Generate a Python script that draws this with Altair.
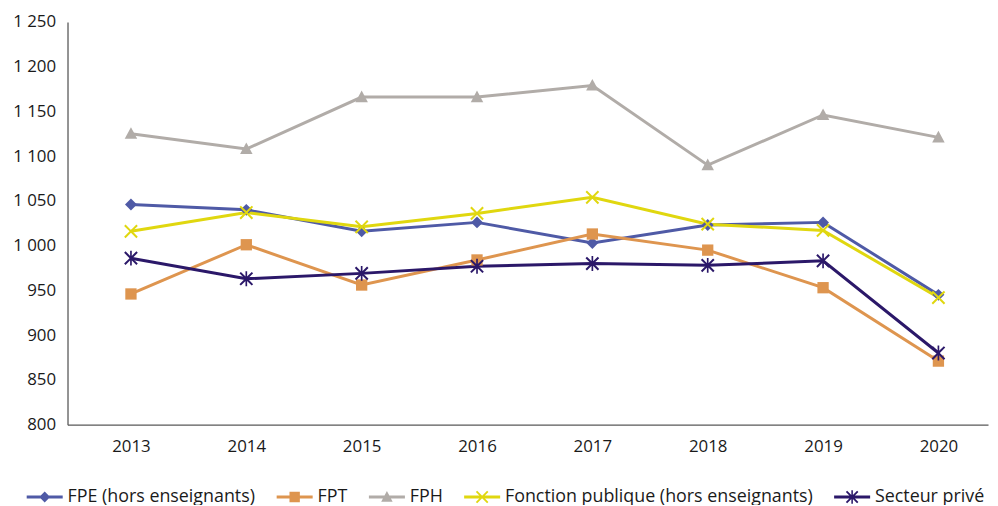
import altair as alt
import pandas as pd

# ---- data ----
years = [2013, 2014, 2015, 2016, 2017, 2018, 2019, 2020]
series_names = [
    "FPE (hors enseignants)",
    "FPT",
    "FPH",
    "Fonction publique (hors enseignants)",
    "Secteur privé",
]
fpe = [1046, 1040, 1016, 1026, 1003, 1023, 1026, 945]
fpt = [946, 1001, 956, 984, 1013, 995, 953, 871]
fph = [1125, 1108, 1166, 1166, 1179, 1090, 1146, 1121]
fonction_publique = [1016, 1037, 1021, 1036, 1054, 1024, 1017, 942]
secteur_prive = [986, 963, 969, 977, 980, 978, 983, 880]
y_ticks = [800, 850, 900, 950, 1000, 1050, 1100, 1150, 1200, 1250]

colors = ["#4F5AA6", "#DE954F", "#B1ACA8", "#E0D70F", "#2B1869"]

values = [fpe, fpt, fph, fonction_publique, secteur_prive]
rows = []
for name, vals in zip(series_names, values):
    for yr, v in zip(years, vals):
        rows.append({"annee": yr, "valeur": v, "serie": name})
df = pd.DataFrame(rows)


# ---- marker shapes (filled custom paths, unit box) ----
def fmt(v):
    return f"{v:.3f}".rstrip("0").rstrip(".")


def poly(pts):
    return "M" + "L".join(f"{fmt(x)},{fmt(y)}" for x, y in pts) + "Z"


def x_shape(s, a):
    pts = [(-s, -s + a), (-s + a, -s), (0, -a), (s - a, -s), (s, -s + a), (a, 0),
           (s, s - a), (s - a, s), (0, a), (-s + a, s), (-s, s - a), (-a, 0)]
    return poly(pts)


diamond = "M0,-1L1,0L0,1L-1,0Z"
square = "M-0.95,-0.95H0.95V0.95H-0.95Z"
triangle = "M0,-1.1L1.05,0.85L-1.05,0.85Z"
xmark = x_shape(1.15, 0.24)
asterisk = x_shape(1.15, 0.24) + "M-0.14,-1.25H0.14V1.25H-0.14Z"
chart_shapes = [diamond, square, triangle, xmark, asterisk]

legend_line = "M-3.3,-0.27H3.3V0.27H-3.3Z"
legend_shapes = [legend_line + s for s in chart_shapes]

FONT = "Open Sans"

x_enc = alt.X(
    "annee:Q",
    scale=alt.Scale(domain=[2012.45, 2020.43], nice=False, zero=False),
    axis=alt.Axis(values=years, format="d", title=None, grid=False, ticks=False,
                  labelPadding=14, labelFontSize=17, labelFont=FONT,
                  labelColor="#1a1a1a", domainColor="#595959", domainWidth=1.3,
                  labelFlush=False),
)
y_enc = alt.Y(
    "valeur:Q",
    scale=alt.Scale(domain=[800, 1250], nice=False, zero=False),
    axis=alt.Axis(values=y_ticks, title=None, grid=False, ticks=False,
                  labelPadding=12, labelFontSize=17, labelFont=FONT,
                  labelColor="#1a1a1a", domainColor="#595959", domainWidth=1.3,
                  labelExpr="replace(format(datum.value, ',d'), ',', ' ')"),
)

color_scale = alt.Scale(domain=series_names, range=colors)

lines = alt.Chart(df).mark_line(strokeWidth=3).encode(
    x=x_enc,
    y=y_enc,
    color=alt.Color("serie:N", scale=color_scale, legend=None),
    detail="serie:N",
)

points = alt.Chart(df).mark_point(filled=True, size=144, opacity=1, strokeWidth=0).encode(
    x=x_enc,
    y=y_enc,
    color=alt.Color("serie:N", scale=color_scale, legend=None),
    shape=alt.Shape("serie:N", scale=alt.Scale(domain=series_names, range=chart_shapes), legend=None),
)

legend = alt.Legend(
    title=None,
    orient="none",
    direction="horizontal",
    legendX=-32,
    legendY=470,
    labelFont=FONT,
    labelFontSize=18,
    labelColor="#1a1a1a",
    labelLimit=500,
    labelOffset=14,
    columnPadding=20,
    padding=0,
    symbolSize=121,
    symbolStrokeWidth=0,
    symbolOpacity=1,
)

legend_layer = alt.Chart(df).mark_point(filled=True, size=121, opacity=0).encode(
    x=x_enc,
    y=y_enc,
    color=alt.Color("serie:N", scale=alt.Scale(domain=series_names, range=colors), legend=legend),
    shape=alt.Shape("serie:N", scale=alt.Scale(domain=series_names, range=legend_shapes), legend=legend),
)

chart = (
    alt.layer(lines, points, legend_layer)
    .resolve_scale(color="independent", shape="independent")
    .properties(
        width=928,
        height=406,
        padding={"left": 60, "top": 12, "right": 2, "bottom": 79},
        autosize=alt.AutoSizeParams(type="none"),
        background="white",
    )
    .configure_view(stroke=None)
)

chart.save("out.html", embed_options={"renderer": "svg", "actions": False})
